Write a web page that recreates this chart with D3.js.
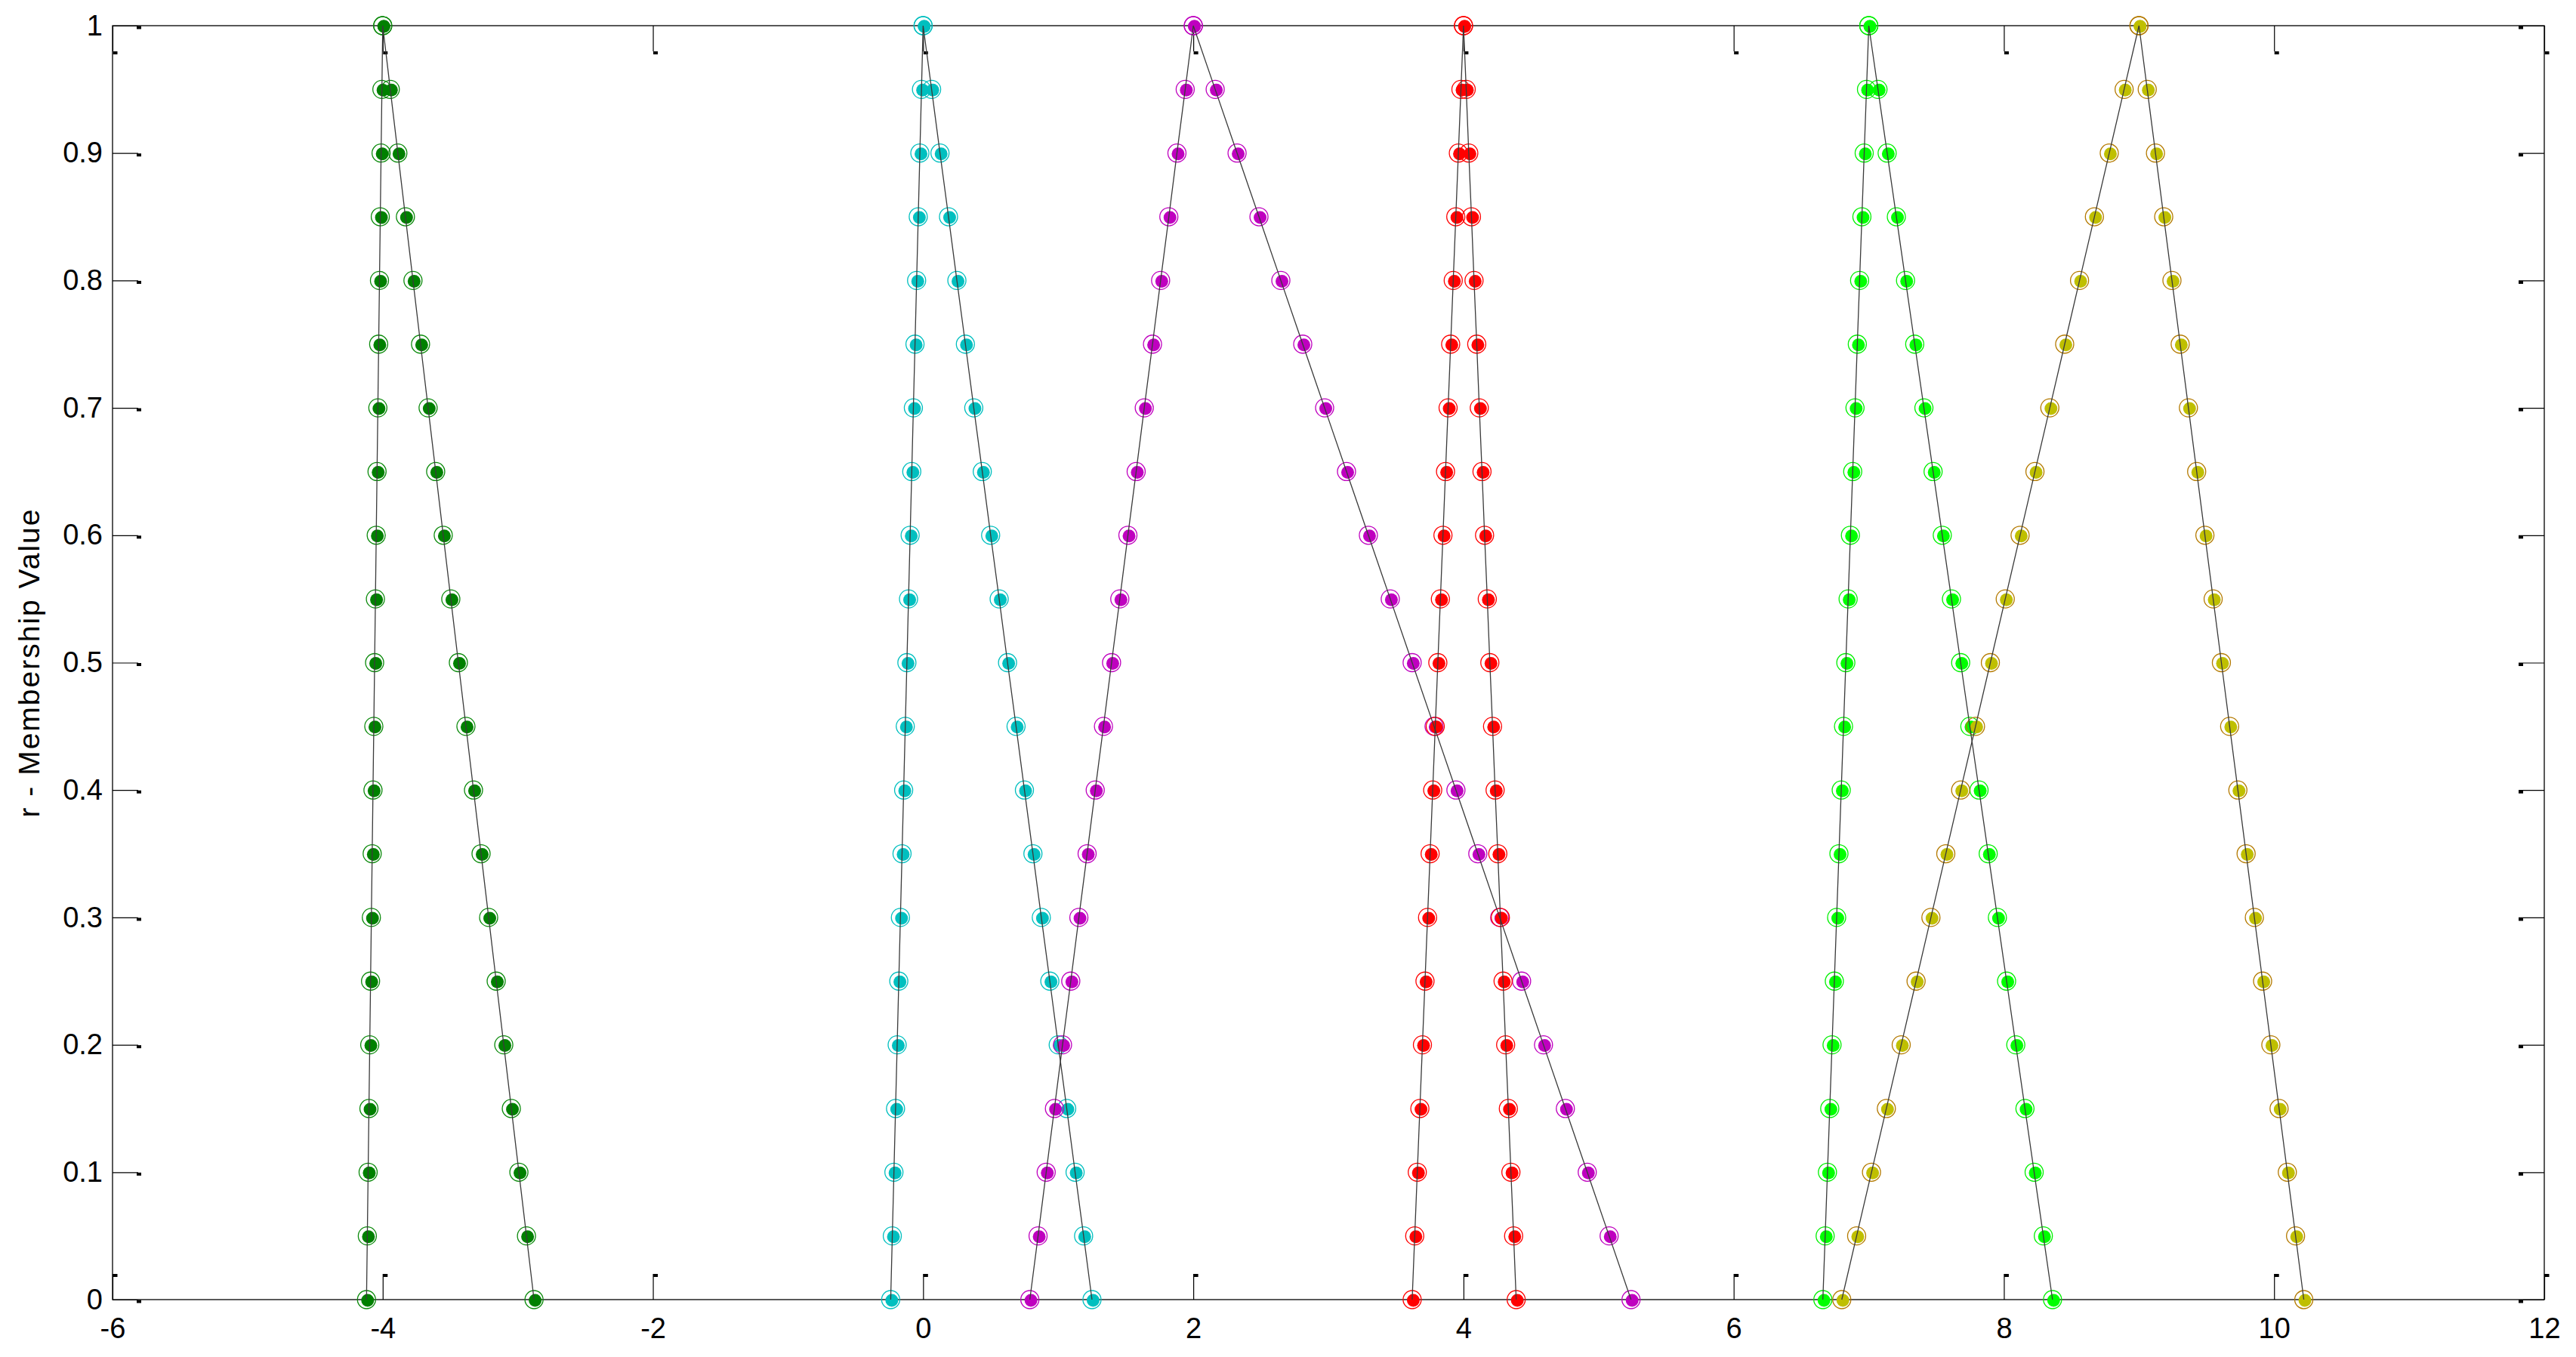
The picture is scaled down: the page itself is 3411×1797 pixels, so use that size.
<!DOCTYPE html>
<html>
<head>
<meta charset="utf-8">
<script src="https://cdn.jsdelivr.net/npm/d3@7"></script>
<style>
	html, body { margin: 0; padding: 0; background: #fff; }
	svg { display: block; font-family: 'Liberation Sans', Arial, Helvetica, sans-serif; }
</style>
</head>
<body>
<div id="chart"></div>
<script>
// membership levels shared by every fuzzy number
const alphaLevels = [0, 0.05, 0.1, 0.15, 0.2, 0.25, 0.3, 0.35, 0.4, 0.45, 0.5, 0.55, 0.6, 0.65, 0.7, 0.75, 0.8, 0.85, 0.9, 0.95, 1];

// left (lo) and right (hi) end of each alpha cut
const darkGreenLo = [-4.12, -4.114, -4.108, -4.102, -4.096, -4.09, -4.084, -4.078, -4.072, -4.066, -4.06, -4.054, -4.048, -4.042, -4.036, -4.03, -4.024, -4.018, -4.012, -4.006, -4.0];
const darkGreenHi = [-2.88, -2.936, -2.992, -3.048, -3.104, -3.16, -3.216, -3.272, -3.328, -3.384, -3.44, -3.496, -3.552, -3.608, -3.664, -3.72, -3.776, -3.832, -3.888, -3.944, -4.0];
const cyanLo = [-0.24, -0.228, -0.216, -0.204, -0.192, -0.18, -0.168, -0.156, -0.144, -0.132, -0.12, -0.108, -0.096, -0.084, -0.072, -0.06, -0.048, -0.036, -0.024, -0.012, 0];
const cyanHi = [1.25, 1.188, 1.125, 1.063, 1.0, 0.938, 0.875, 0.813, 0.75, 0.688, 0.625, 0.563, 0.5, 0.438, 0.375, 0.313, 0.25, 0.188, 0.125, 0.063, 0];
const magentaLo = [0.79, 0.851, 0.911, 0.972, 1.032, 1.093, 1.153, 1.214, 1.274, 1.335, 1.395, 1.456, 1.516, 1.577, 1.637, 1.698, 1.758, 1.819, 1.879, 1.94, 2.0];
const magentaHi = [5.24, 5.078, 4.916, 4.754, 4.592, 4.43, 4.268, 4.106, 3.944, 3.782, 3.62, 3.458, 3.296, 3.134, 2.972, 2.81, 2.648, 2.486, 2.324, 2.162, 2.0];
const redLo = [3.62, 3.639, 3.658, 3.677, 3.696, 3.715, 3.734, 3.753, 3.772, 3.791, 3.81, 3.829, 3.848, 3.867, 3.886, 3.905, 3.924, 3.943, 3.962, 3.981, 4.0];
const redHi = [4.39, 4.371, 4.351, 4.332, 4.312, 4.293, 4.273, 4.254, 4.234, 4.215, 4.195, 4.176, 4.156, 4.137, 4.117, 4.098, 4.078, 4.059, 4.039, 4.02, 4.0];
const greenLo = [6.66, 6.677, 6.694, 6.711, 6.728, 6.745, 6.762, 6.779, 6.796, 6.813, 6.83, 6.847, 6.864, 6.881, 6.898, 6.915, 6.932, 6.949, 6.966, 6.983, 7.0];
const greenHi = [8.36, 8.292, 8.224, 8.156, 8.088, 8.02, 7.952, 7.884, 7.816, 7.748, 7.68, 7.612, 7.544, 7.476, 7.408, 7.34, 7.272, 7.204, 7.136, 7.068, 7.0];
const yellowLo = [6.8, 6.91, 7.02, 7.13, 7.24, 7.35, 7.46, 7.57, 7.68, 7.79, 7.9, 8.01, 8.12, 8.23, 8.34, 8.45, 8.56, 8.67, 8.78, 8.89, 9.0];
const yellowHi = [10.22, 10.159, 10.098, 10.037, 9.976, 9.915, 9.854, 9.793, 9.732, 9.671, 9.61, 9.549, 9.488, 9.427, 9.366, 9.305, 9.244, 9.183, 9.122, 9.061, 9.0];

const xTicks = [-6, -4, -2, 0, 2, 4, 6, 8, 10, 12];
const xTickLabels = ['-6', '-4', '-2', '0', '2', '4', '6', '8', '10', '12'];
const yTicks = [0, 0.1, 0.2, 0.3, 0.4, 0.5, 0.6, 0.7, 0.8, 0.9, 1];
const yTickLabels = ['0', '0.1', '0.2', '0.3', '0.4', '0.5', '0.6', '0.7', '0.8', '0.9', '1'];
const yTitle = 'r - Membership Value';

// styles, one per fuzzy number
const dotColors = ['#008000', '#00bfbf', '#bf00bf', '#ff0000', '#00ff00', '#bfbf00'];
const ringColors = ['#0b8a0b', '#00bfbf', '#bf00bf', '#ff0000', '#00f000', '#b47a00'];

let series = [
	{ lo: darkGreenLo, hi: darkGreenHi },
	{ lo: cyanLo, hi: cyanHi },
	{ lo: magentaLo, hi: magentaHi },
	{ lo: redLo, hi: redHi },
	{ lo: greenLo, hi: greenHi },
	{ lo: yellowLo, hi: yellowHi }
];

let W = 3411, H = 1797;
let plot = { left: 149, right: 3369, top: 34, bottom: 1721 };
let tickLen = 34;

let x = d3.scaleLinear().domain([ -6, 12 ]).range([ plot.left, plot.right ]);
let y = d3.scaleLinear().domain([ 0, 1 ]).range([ plot.bottom, plot.top ]);

const svg = d3.select('#chart').append('svg').attr('width', W).attr('height', H);
svg.append('rect').attr('width', W).attr('height', H).attr('fill', '#fff');

// tick squares: little blobs at the inner end of every tick, as in the original render
function addTickBlobs(g, bx, by){
	g.selectAll('.tick').append('rect')
		.attr('x', bx).attr('y', by)
		.attr('width', 6).attr('height', 4)
		.attr('fill', '#000');
}

function styleAxis(g){
	g.select('.domain').remove();
	g.selectAll('.tick line').attr('stroke', '#000').attr('stroke-width', 1.2);
	g.selectAll('.tick text').attr('fill', '#000').attr('font-size', 38);
}

let gBottom = svg.append('g').attr('transform', 'translate(0,' + plot.bottom + ')')
	.call(d3.axisBottom(x).tickValues(xTicks).tickFormat((d, i) => xTickLabels[i]).tickSizeInner(-tickLen).tickSizeOuter(0).tickPadding(24));
styleAxis(gBottom);
addTickBlobs(gBottom, 0, -tickLen);

let gTop = svg.append('g').attr('transform', 'translate(0,' + plot.top + ')')
	.call(d3.axisTop(x).tickValues(xTicks).tickFormat('').tickSizeInner(-tickLen).tickSizeOuter(0));
styleAxis(gTop);
addTickBlobs(gTop, 0, tickLen);

let gLeft = svg.append('g').attr('transform', 'translate(' + plot.left + ',0)')
	.call(d3.axisLeft(y).tickValues(yTicks).tickFormat((d, i) => yTickLabels[i]).tickSizeInner(-tickLen).tickSizeOuter(0).tickPadding(13));
styleAxis(gLeft);
addTickBlobs(gLeft, tickLen - 2, 0);

let gRight = svg.append('g').attr('transform', 'translate(' + plot.right + ',0)')
	.call(d3.axisRight(y).tickValues(yTicks).tickFormat('').tickSizeInner(-tickLen).tickSizeOuter(0));
styleAxis(gRight);
addTickBlobs(gRight, -tickLen, 0);

// axes box
svg.append('rect')
	.attr('x', plot.left).attr('y', plot.top)
	.attr('width', plot.right - plot.left).attr('height', plot.bottom - plot.top)
	.attr('fill', 'none').attr('stroke', '#000').attr('stroke-width', 1.3);

svg.append('text')
	.attr('transform', 'translate(52,' + ((plot.top + plot.bottom) / 2) + ') rotate(-90)')
	.attr('text-anchor', 'middle')
	.attr('font-size', 39)
	.attr('letter-spacing', 2)
	.attr('fill', '#000')
	.text(yTitle);

// markers: filled dot with a thin ring round it, both ends of every cut
let marks = svg.append('g');
series.forEach((s, si) => {
	let pts = [];
	alphaLevels.forEach((a, i) => {
		pts.push({ v: s.lo[i], a: a });
		pts.push({ v: s.hi[i], a: a });
	});
	let g = marks.append('g');
	g.selectAll('circle.dot').data(pts).enter().append('circle')
		.attr('class', 'dot')
		.attr('cx', (d) => x(d.v) + 1.5)
		.attr('cy', (d) => y(d.a) + 1)
		.attr('r', 8.5)
		.attr('fill', dotColors[si]);
	g.selectAll('circle.ring').data(pts).enter().append('circle')
		.attr('class', 'ring')
		.attr('cx', (d) => x(d.v))
		.attr('cy', (d) => y(d.a))
		.attr('r', 12)
		.attr('fill', 'none')
		.attr('stroke', ringColors[si])
		.attr('stroke-width', 1.3);
});

// triangle outline: up the left side, down the right side
let line = d3.line().x((d) => x(d.v)).y((d) => y(d.a));
series.forEach((s) => {
	let path = alphaLevels.map((a, i) => ({ v: s.lo[i], a: a }));
	for (let i = alphaLevels.length - 1; i >= 0; i--) path.push({ v: s.hi[i], a: alphaLevels[i] });
	svg.append('path')
		.attr('d', line(path))
		.attr('fill', 'none')
		.attr('stroke', '#3a3a3a')
		.attr('stroke-width', 1.3);
});
</script>
</body>
</html>
